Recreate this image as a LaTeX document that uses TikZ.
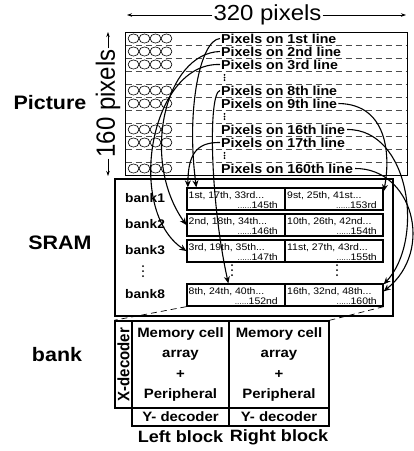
\documentclass[tikz,border=0pt]{standalone}
\usepackage{fontspec}
\setmainfont{Liberation Sans}[FakeStretch=1.1]
\newfontfamily\rotfont{Liberation Sans}
\usetikzlibrary{arrows.meta}
\tikzset{
  lbl/.style={font=\bfseries\fontsize{19.5}{19.5}\selectfont, inner sep=0pt},
  pline/.style={font=\bfseries\fontsize{12.9}{12.9}\selectfont, inner sep=0pt, anchor=west},
  pdash/.style={dash pattern=on 6pt off 4pt, black!70, line width=0.8pt},
  arr/.style={line width=1.1pt, -{Stealth[length=7pt,width=6pt]}},
  dimarr/.style={line width=0.7pt, -{Stealth[length=5pt,width=3.5pt]}},
  cellbox/.style={draw, line width=1.3pt, minimum width=98pt, minimum height=22pt, inner sep=0pt},
  ctext/.style={font=\fontsize{9.5}{9.5}\selectfont, inner sep=0pt},
  blabel/.style={font=\bfseries\fontsize{12.5}{12.5}\selectfont, inner sep=0pt, anchor=west},
  blk/.style={draw, line width=1.5pt, inner sep=0pt, align=center, font=\bfseries\fontsize{13.6}{20.5}\selectfont},
  bigtext/.style={font=\fontsize{21.8}{21.8}\selectfont, inner sep=1pt},
  blocklbl/.style={font=\bfseries\fontsize{16.4}{16.4}\selectfont, inner sep=0pt},
  bdash/.style={dash pattern=on 6pt off 4pt, line width=0.7pt},
}
\newcommand{\mydots}{{\fontsize{7.6}{7.6}\selectfont ......}}
\newcommand{\bankrow}[6]{%
  \node[cellbox] (b#1l) at (236,#2+11) {};
  \node[cellbox] (b#1r) at (334,#2+11) {};
  \node[blabel] (lab#1) at (125,#2+10) {bank#1};
  \node[ctext, anchor=base west] (b#1la) at (188.5,#2+10) {#3};
  \node[ctext, anchor=base east] (b#1lb) at (278,#2+20.5) {\mydots#4};
  \node[ctext, anchor=base west] (b#1ra) at (287,#2+10) {#5};
  \node[ctext, anchor=base east] (b#1rb) at (377,#2+20.5) {\mydots#6};
}
\newcommand{\vdotsat}[3]{%
  \fill (#1,#2-#3) circle (1pt); \fill (#1,#2) circle (1pt); \fill (#1,#2+#3) circle (1pt);}
\begin{document}
\begin{tikzpicture}[x=1pt,y=-1pt]
\fill[white] (0,0) rectangle (414,451);
\useasboundingbox (0,0) rectangle (414,451);

% dimension labels
\node[bigtext] (w320) at (267.5,15) {320 pixels};
\coordinate (hl) at (127,15);
\coordinate (hr) at (406,15);
\draw[dimarr] (w320.west) -- (hl);
\draw[dimarr] (w320.east) -- (hr);
\node[rotate=90, inner sep=1pt, font=\rotfont\fontsize{24}{24}\selectfont] (h160) at (108,103.5) {\scalebox{1}[1.1]{160 pixels}};
\coordinate (vt) at (108,32);
\coordinate (vb) at (108,176);
\draw[dimarr] (h160.east) -- (vt);
\draw[dimarr] (h160.west) -- (vb);

% side labels
\node[lbl] (lpic) at (50,103) {Picture};
\node[lbl] (lsram) at (60,243) {SRAM};
\node[lbl] (lbank) at (57,355) {bank};

% picture box
\node[draw, line width=0.9pt, minimum width=282pt, minimum height=143pt, inner sep=0pt] (pic) at (266,103.5) {};
\foreach \i in {1,...,10} {
  \draw[pdash] (125.5,32+13*\i) -- (406.5,32+13*\i);
}
\foreach \i in {0,1,2,4,5,7,8,10} {
  \foreach \cx in {133.5,144.5,155.5,166.5} {
    \draw[line width=0.6pt] (\cx,38.5+13*\i) ellipse [x radius=5.4pt, y radius=4.6pt];
  }
}
\node[pline] (l1) at (221,38.5) {Pixels on 1st line};
\node[pline] (l2) at (221,51.5) {Pixels on 2nd line};
\node[pline] (l3) at (221,64.5) {Pixels on 3rd line};
\node[pline] (l8) at (221,90.5) {Pixels on 8th line};
\node[pline] (l9) at (221,103.5) {Pixels on 9th line};
\node[pline] (l16) at (221,129.5) {Pixels on 16th line};
\node[pline] (l17) at (221,142.5) {Pixels on 17th line};
\node[pline] (l160) at (221,168.5) {Pixels on 160th line};
\vdotsat{224.5}{77.5}{2.6}
\vdotsat{224.5}{116.5}{2.6}
\vdotsat{224.5}{155.5}{2.6}

% SRAM
\node[draw, line width=1.5pt, minimum width=278pt, minimum height=137pt, inner sep=0pt] (sram) at (254,247.5) {};
\bankrow{1}{188}{1st, 17th, 33rd...}{145th}{9st, 25th, 41st...}{153rd}
\bankrow{2}{214}{2nd, 18th, 34th...}{146th}{10th, 26th, 42nd...}{154th}
\bankrow{3}{240}{3rd, 19th, 35th...}{147th}{11st, 27th, 43rd...}{155th}
\bankrow{8}{284}{8th, 24th, 40th...}{152nd}{16th, 32nd, 48th...}{160th}
\vdotsat{143}{271}{5}
\vdotsat{232}{270}{5}
\vdotsat{337}{270}{5}

% bank detail
\node[draw, line width=1.5pt, minimum width=17pt, minimum height=87pt, inner sep=0pt] (xdec) at (123.5,364.5) {};
\node[rotate=90, font=\rotfont\bfseries\fontsize{15}{15}\selectfont, inner sep=0pt] (xdt) at (xdec.center) {\scalebox{1}[1.1]{X-decoder}};
\node[blk, minimum width=97pt, minimum height=87pt] (leftb) at (180.5,364.5) {Memory cell\\array\\+\\Peripheral};
\node[blk, minimum width=100pt, minimum height=87pt] (rightb) at (279,364.5) {Memory cell\\array\\+\\Peripheral};
\node[blk, minimum width=97pt, minimum height=18pt] (ydl) at (180.5,417) {Y- decoder};
\node[blk, minimum width=100pt, minimum height=18pt] (ydr) at (279,417) {Y- decoder};
\node[blocklbl] (lleft) at (180.5,437) {Left block};
\node[blocklbl] (lright) at (279,437) {Right block};
\draw[bdash] (b8l.south west) -- (xdec.north west);
\draw[bdash] (b8r.south east) -- (rightb.north east);

% mapping arrows
\draw[arr] ([xshift=-1pt]l1.west) .. controls (200,40) and (186,110) .. ([xshift=10pt]b1l.north west);
\draw[arr] ([xshift=-1pt]l17.west) .. controls (196,142) and (188,155) .. ([xshift=1.5pt]b1l.north west);
\draw[arr] ([xshift=-1pt]l2.west) .. controls (165,53) and (140,160) .. (b2l.west);
\draw[arr] ([xshift=-1pt]l3.west) .. controls (150,62) and (125,210) .. (b3l.west);
\draw[arr] ([xshift=-1pt]l8.west) .. controls (208,93) and (210,200) .. ([xshift=42pt]b8l.north west);
\draw[arr] ([xshift=1pt]l9.east) .. controls (390,104) and (390,160) .. ([yshift=-4pt]b1r.north east);
\draw[arr] ([xshift=2pt]l16.east) .. controls (410,129) and (425,240) .. ([yshift=-1pt]b8r.north east);
\draw[arr] ([xshift=2pt]l160.east) .. controls (412,168) and (435,250) .. ([yshift=-8pt]b8r.north east);
\end{tikzpicture}
\end{document}
